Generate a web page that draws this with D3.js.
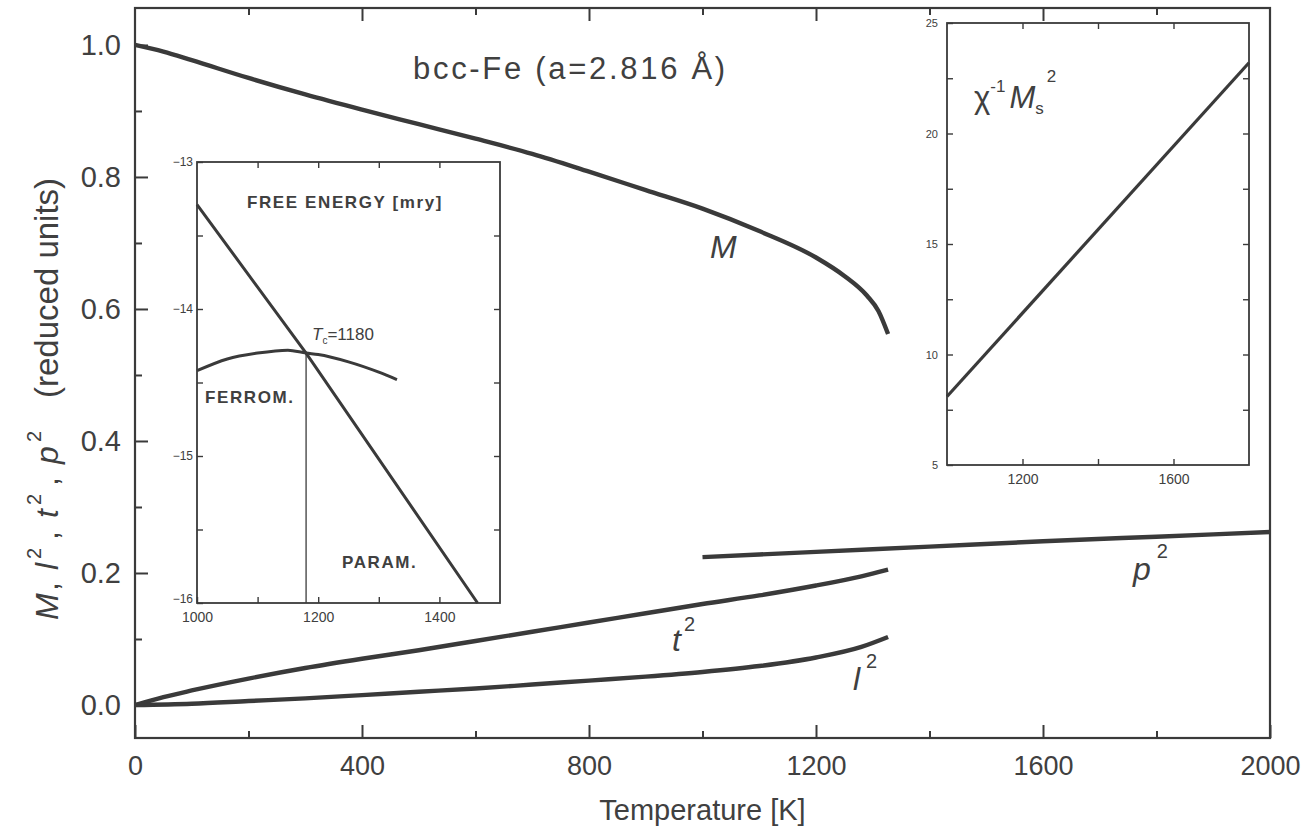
<!DOCTYPE html>
<html><head><meta charset="utf-8">
<script src="https://cdn.jsdelivr.net/npm/d3@7"></script>
<style>
html,body{margin:0;padding:0;background:#fff;}
svg text{font-family:"Liberation Sans",Arial,Helvetica,sans-serif;fill:#404040;}
</style></head>
<body><svg id="chart" width="1308" height="840"></svg>
<script>
// ---------- data ----------
const xTicksMain = [0, 400, 800, 1200, 1600, 2000];
const xMinorMain = [200, 600, 1000, 1400, 1800];
const yTicksMain = [0.0, 0.2, 0.4, 0.6, 0.8, 1.0];
const yMinorMain = [0.1, 0.3, 0.5, 0.7, 0.9];

const tempM = [0, 50, 100, 200, 300, 400, 500, 600, 700, 800, 900, 1000, 1100, 1200, 1250, 1290, 1310, 1327];
const valM  = [1.0, 0.99, 0.977, 0.950, 0.925, 0.902, 0.880, 0.858, 0.835, 0.808, 0.780, 0.752, 0.718, 0.678, 0.650, 0.620, 0.597, 0.562];

const tempT2 = [0, 50, 100, 200, 300, 400, 500, 600, 700, 800, 900, 1000, 1100, 1200, 1280, 1327];
const valT2  = [0, 0.012, 0.022, 0.040, 0.056, 0.070, 0.083, 0.097, 0.111, 0.125, 0.139, 0.153, 0.166, 0.181, 0.195, 0.205];

const tempL2 = [0, 100, 200, 300, 400, 500, 600, 700, 800, 900, 1000, 1100, 1200, 1280, 1327];
const valL2  = [0, 0.002, 0.006, 0.010, 0.015, 0.020, 0.025, 0.031, 0.037, 0.043, 0.050, 0.059, 0.072, 0.088, 0.103];

const tempP2 = [1000, 1200, 1400, 1600, 1800, 2000];
const valP2  = [0.224, 0.232, 0.240, 0.248, 0.255, 0.262];

// inset 1: free energy [mry]
const feXTicks = [1000, 1200, 1400];
const feXMinor = [1100, 1300];
const feYTicks = [-16, -15, -14, -13];
const feYMinor = [-15.5, -14.5, -13.5];
const paraT = [1000, 1180, 1463];
const paraF = [-13.29, -14.30, -16.0];
const ferroT = [1000, 1050, 1100, 1150, 1180, 1200, 1250, 1300, 1330];
const ferroF = [-14.42, -14.34, -14.30, -14.28, -14.30, -14.31, -14.36, -14.43, -14.48];
const tcTemp = 1180;
const tcF = -14.30;

// inset 2: chi^-1 Ms^2
const chiXTicks = [1200, 1600];
const chiXMinor = [1400];
const chiXTop = [1200, 1400, 1600];
const chiYTicks = [5, 10, 15, 20, 25];
const chiYMinor = [7.5, 12.5, 17.5, 22.5];
const chiT = [1000, 1800];
const chiV = [8.1, 23.2];

// ---------- drawing ----------
const svg = d3.select("#chart");
const ink = "#3a3a3a";

function zip(a, b) { return a.map((v, i) => [v, b[i]]); }

// main scales
const x = d3.scaleLinear().domain([0, 2000]).range([135, 1270]);
const y = d3.scaleLinear().domain([-0.05, 1.056]).range([738, 8]);

const main = svg.append("g");
main.append("rect").attr("x", x(0)).attr("y", y(1.056)).attr("width", x(2000) - x(0)).attr("height", y(-0.05) - y(1.056))
  .attr("fill", "#fff").attr("stroke", ink).attr("stroke-width", 2.2);

function styleAxis(g, fs) {
  g.select(".domain").remove();
  g.selectAll("line").attr("stroke", ink).attr("stroke-width", 2);
  g.selectAll("text").attr("fill", "#404040").style("font-size", fs + "px");
}

// bottom
main.append("g").attr("transform", `translate(0,${y(-0.05)})`)
  .call(d3.axisBottom(x).tickValues(xTicksMain).tickSize(-13).tickPadding(18).tickFormat(d3.format("d")))
  .call(g => styleAxis(g, 27));
main.append("g").attr("transform", `translate(0,${y(-0.05)})`)
  .call(d3.axisBottom(x).tickValues(xMinorMain).tickSize(-7).tickFormat(""))
  .call(g => styleAxis(g, 27));
// top
main.append("g").attr("transform", `translate(0,${y(1.056)})`)
  .call(d3.axisTop(x).tickValues(xTicksMain.slice(1, -1)).tickSize(-13).tickFormat(""))
  .call(g => styleAxis(g, 27));
main.append("g").attr("transform", `translate(0,${y(1.056)})`)
  .call(d3.axisTop(x).tickValues(xMinorMain).tickSize(-7).tickFormat(""))
  .call(g => styleAxis(g, 27));
// left
main.append("g").attr("transform", `translate(${x(0)},0)`)
  .call(d3.axisLeft(y).tickValues(yTicksMain).tickSize(-13).tickPadding(14).tickFormat(d3.format(".1f")))
  .call(g => styleAxis(g, 29));
main.append("g").attr("transform", `translate(${x(0)},0)`)
  .call(d3.axisLeft(y).tickValues(yMinorMain).tickSize(-7).tickFormat(""))
  .call(g => styleAxis(g, 29));

const lineMain = d3.line().x(d => x(d[0])).y(d => y(d[1])).curve(d3.curveMonotoneX);
[[tempM, valM], [tempT2, valT2], [tempL2, valL2], [tempP2, valP2]].forEach(([t, v]) => {
  main.append("path").datum(zip(t, v)).attr("d", lineMain)
    .attr("fill", "none").attr("stroke", ink).attr("stroke-width", 4.4).attr("stroke-linecap", "butt");
});

// axis titles
svg.append("text").attr("x", x(1000)).attr("y", 820).attr("text-anchor", "middle")
  .style("font-size", "29px").text("Temperature [K]");

const yl = svg.append("text").attr("transform", "translate(58,620) rotate(-90)").attr("text-anchor", "start")
  .style("font-size", "32px");
yl.append("tspan").attr("x", 0).attr("y", 0).attr("font-style", "italic").text("M");
yl.append("tspan").attr("x", 29).attr("y", 0).text(",");
yl.append("tspan").attr("x", 50).attr("y", 0).attr("font-style", "italic").text("l");
yl.append("tspan").attr("x", 61).attr("y", -17).style("font-size", "20px").text("2");
yl.append("tspan").attr("x", 80).attr("y", 0).text(",");
yl.append("tspan").attr("x", 102).attr("y", 0).attr("font-style", "italic").text("t");
yl.append("tspan").attr("x", 115).attr("y", -17).style("font-size", "20px").text("2");
yl.append("tspan").attr("x", 134).attr("y", 0).text(",");
yl.append("tspan").attr("x", 156).attr("y", 0).attr("font-style", "italic").text("p");
yl.append("tspan").attr("x", 178).attr("y", -17).style("font-size", "20px").text("2");
yl.append("tspan").attr("x", 222).attr("y", 0).style("font-size", "33px").text("(reduced units)");

// title
svg.append("text").attr("x", 413).attr("y", 79).style("font-size", "31px").style("letter-spacing", "2.7px")
  .text("bcc-Fe (a=2.816 Å)");

// curve labels
function supLabel(px, py, base, fs, supfs, supdx, supdy) {
  const t = svg.append("text").attr("x", px).attr("y", py).style("font-size", fs + "px");
  t.append("tspan").attr("font-style", "italic").text(base);
  if (supfs) t.append("tspan").attr("dx", supdx).attr("dy", supdy).style("font-size", supfs + "px").text("2");
}
supLabel(710, 258, "M", 32);
supLabel(672, 651, "t", 32, 20, 3, -20);
supLabel(853, 690, "l", 32, 20, 6, -22);
supLabel(1133, 580, "p", 32, 20, 6, -22);

// ---------- inset 1 ----------
const fx = d3.scaleLinear().domain([1000, 1500]).range([197, 500]);
const fy = d3.scaleLinear().domain([-16, -13]).range([603, 162]);
const in1 = svg.append("g");
in1.append("rect").attr("x", fx(1000)).attr("y", fy(-13)).attr("width", fx(1500) - fx(1000)).attr("height", fy(-16) - fy(-13))
  .attr("fill", "#fff").attr("stroke", ink).attr("stroke-width", 1.8);
function styleSmall(g, fs) {
  g.select(".domain").remove();
  g.selectAll("line").attr("stroke", ink).attr("stroke-width", 1.4);
  g.selectAll("text").attr("fill", "#404040").style("font-size", fs + "px");
}
const allFX = feXTicks.concat(feXMinor), allFY = feYTicks.concat(feYMinor);
in1.append("g").attr("transform", `translate(0,${fy(-16)})`)
  .call(d3.axisBottom(fx).tickValues(feXTicks).tickSize(-6).tickPadding(9).tickFormat(d3.format("d"))).call(g => styleSmall(g, 14));
in1.append("g").attr("transform", `translate(0,${fy(-16)})`)
  .call(d3.axisBottom(fx).tickValues(feXMinor).tickSize(-6).tickFormat("")).call(g => styleSmall(g, 14));
in1.append("g").attr("transform", `translate(0,${fy(-13)})`)
  .call(d3.axisTop(fx).tickValues(allFX.filter(v => v > 1000)).tickSize(-6).tickFormat("")).call(g => styleSmall(g, 14));
in1.append("g").attr("transform", `translate(${fx(1000)},0)`)
  .call(d3.axisLeft(fy).tickValues(feYTicks).tickSize(-6).tickPadding(4).tickFormat(d3.format("d"))).call(g => styleSmall(g, 12));
in1.append("g").attr("transform", `translate(${fx(1000)},0)`)
  .call(d3.axisLeft(fy).tickValues(feYMinor).tickSize(-6).tickFormat("")).call(g => styleSmall(g, 12));
in1.append("g").attr("transform", `translate(${fx(1500)},0)`)
  .call(d3.axisRight(fy).tickValues(allFY.filter(v => v > -16 && v < -13)).tickSize(-6).tickFormat("")).call(g => styleSmall(g, 12));
in1.selectAll("text").filter(function () { return this.textContent === "−16"; }).attr("dy", "-0.05em");

const lineF = d3.line().x(d => fx(d[0])).y(d => fy(d[1]));
in1.append("path").datum(zip(paraT, paraF)).attr("d", lineF).attr("fill", "none").attr("stroke", ink).attr("stroke-width", 3);
in1.append("path").datum(zip(ferroT, ferroF)).attr("d", lineF.curve(d3.curveMonotoneX)).attr("fill", "none").attr("stroke", ink).attr("stroke-width", 3);
in1.append("line").attr("x1", fx(tcTemp)).attr("x2", fx(tcTemp)).attr("y1", fy(-16)).attr("y2", fy(tcF))
  .attr("stroke", ink).attr("stroke-width", 1.3);

const boldLab = (px, py, s) => in1.append("text").attr("x", px).attr("y", py).style("font-size", "17px")
  .style("font-weight", "bold").style("letter-spacing", "1.6px").text(s);
boldLab(247, 208, "FREE ENERGY [mry]");
boldLab(205, 403, "FERROM.");
boldLab(342, 568, "PARAM.");
const tcl = in1.append("text").attr("x", 312).attr("y", 340).style("font-size", "17px");
tcl.append("tspan").attr("font-style", "italic").text("T");
tcl.append("tspan").attr("dy", 4).style("font-size", "10px").text("c");
tcl.append("tspan").attr("dy", -4).text("=1180");

// ---------- inset 2 ----------
const cx = d3.scaleLinear().domain([1000, 1800]).range([947, 1249]);
const cy = d3.scaleLinear().domain([5, 25]).range([465, 23]);
const in2 = svg.append("g");
in2.append("rect").attr("x", cx(1000)).attr("y", cy(25)).attr("width", cx(1800) - cx(1000)).attr("height", cy(5) - cy(25))
  .attr("fill", "#fff").attr("stroke", ink).attr("stroke-width", 1.8);
in2.append("g").attr("transform", `translate(0,${cy(5)})`)
  .call(d3.axisBottom(cx).tickValues(chiXTicks).tickSize(-6).tickPadding(9).tickFormat(d3.format("d"))).call(g => styleSmall(g, 14));
in2.append("g").attr("transform", `translate(0,${cy(5)})`)
  .call(d3.axisBottom(cx).tickValues(chiXMinor).tickSize(-6).tickFormat("")).call(g => styleSmall(g, 14));
in2.append("g").attr("transform", `translate(0,${cy(25)})`)
  .call(d3.axisTop(cx).tickValues(chiXTop).tickSize(-6).tickFormat("")).call(g => styleSmall(g, 14));
in2.append("g").attr("transform", `translate(${cx(1000)},0)`)
  .call(d3.axisLeft(cy).tickValues(chiYTicks).tickSize(-6).tickPadding(9).tickFormat(d3.format("d"))).call(g => styleSmall(g, 11));
in2.append("g").attr("transform", `translate(${cx(1000)},0)`)
  .call(d3.axisLeft(cy).tickValues(chiYMinor).tickSize(-6).tickFormat("")).call(g => styleSmall(g, 11));
in2.append("g").attr("transform", `translate(${cx(1800)},0)`)
  .call(d3.axisRight(cy).tickValues(chiYTicks.slice(1, -1).concat(chiYMinor)).tickSize(-6).tickFormat("")).call(g => styleSmall(g, 11));

const lineC = d3.line().x(d => cx(d[0])).y(d => cy(d[1]));
in2.append("path").datum(zip(chiT, chiV)).attr("d", lineC).attr("fill", "none").attr("stroke", ink).attr("stroke-width", 3.2);

const chl = in2.append("text").attr("x", 974).attr("y", 108).style("font-size", "31px");
chl.append("tspan").text("χ");
chl.append("tspan").attr("dy", -16).style("font-size", "17px").text("-1");
chl.append("tspan").attr("dy", 16).attr("dx", 4).attr("font-style", "italic").text("M");
chl.append("tspan").attr("dy", 6).style("font-size", "17px").text("s");
chl.append("tspan").attr("dy", -32).attr("dx", 3).style("font-size", "17px").text("2");
</script></body></html>
